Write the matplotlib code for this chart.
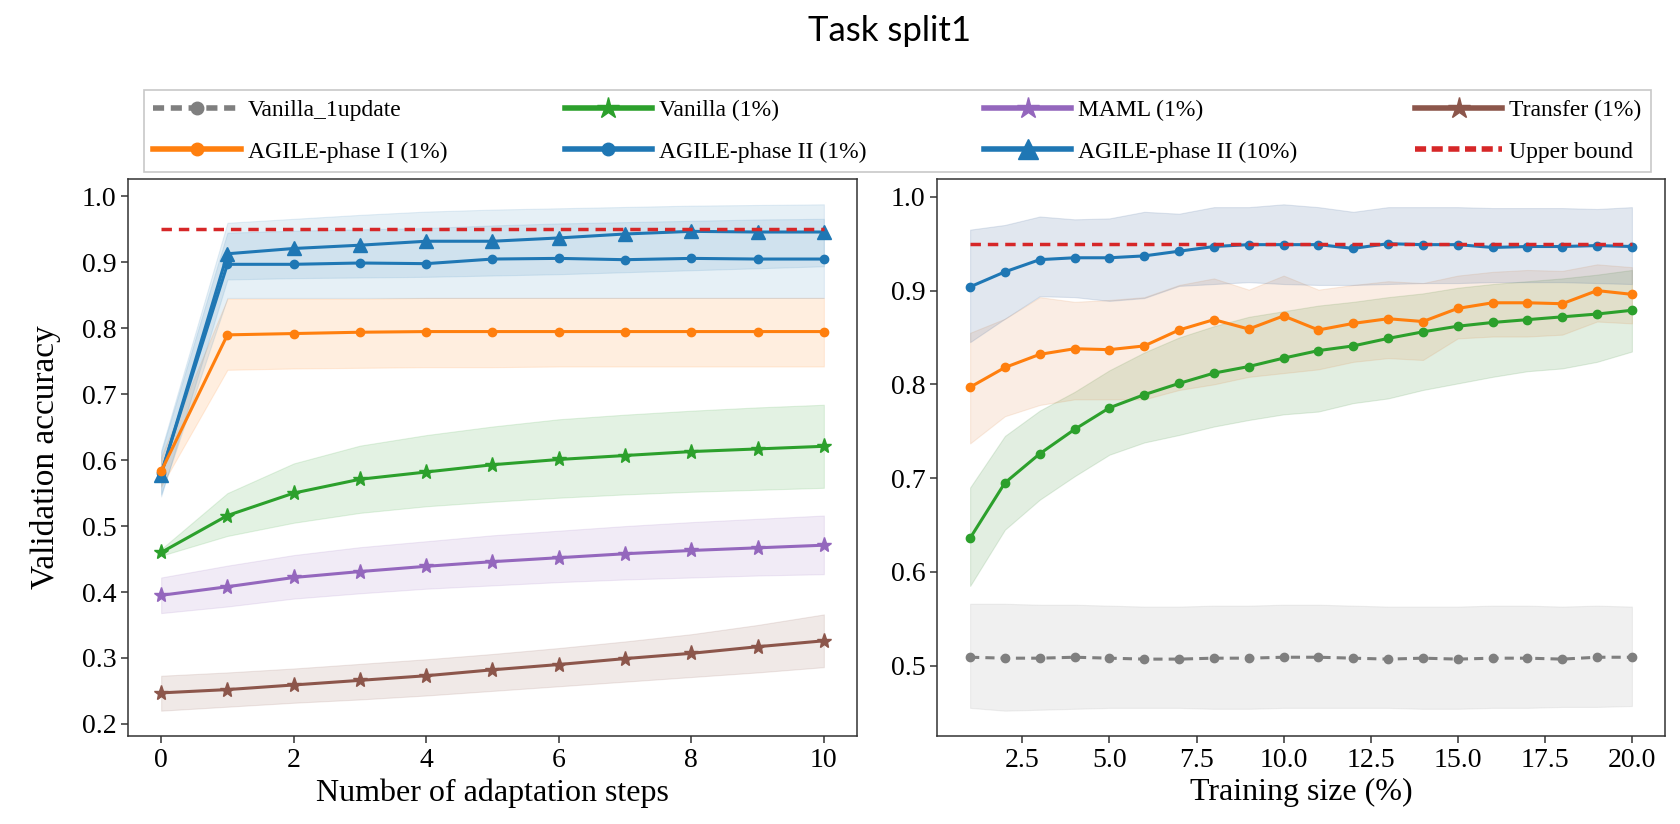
import matplotlib
matplotlib.use("Agg")
import matplotlib.pyplot as plt
from matplotlib.lines import Line2D
import numpy as np

# ---------------- data ----------------
steps = [0, 1, 2, 3, 4, 5, 6, 7, 8, 9, 10]

vanilla_mean = [0.460, 0.516, 0.550, 0.571, 0.582, 0.593, 0.601, 0.607, 0.613, 0.617, 0.621]
vanilla_lo = [0.455, 0.485, 0.505, 0.520, 0.530, 0.537, 0.543, 0.548, 0.552, 0.555, 0.558]
vanilla_hi = [0.465, 0.550, 0.595, 0.622, 0.638, 0.651, 0.662, 0.669, 0.675, 0.680, 0.684]

maml_mean = [0.395, 0.408, 0.422, 0.431, 0.439, 0.446, 0.452, 0.458, 0.463, 0.467, 0.471]
maml_lo = [0.368, 0.378, 0.390, 0.398, 0.405, 0.410, 0.415, 0.419, 0.422, 0.425, 0.427]
maml_hi = [0.422, 0.440, 0.456, 0.468, 0.477, 0.486, 0.493, 0.500, 0.506, 0.511, 0.516]

transfer_mean = [0.247, 0.252, 0.259, 0.266, 0.273, 0.282, 0.290, 0.299, 0.307, 0.317, 0.326]
transfer_lo = [0.220, 0.226, 0.232, 0.237, 0.243, 0.250, 0.257, 0.264, 0.271, 0.278, 0.286]
transfer_hi = [0.273, 0.278, 0.284, 0.291, 0.298, 0.306, 0.315, 0.325, 0.336, 0.350, 0.366]

agile1_mean = [0.583, 0.790, 0.792, 0.794, 0.795, 0.795, 0.795, 0.795, 0.795, 0.795, 0.795]
agile1_lo = [0.560, 0.737, 0.739, 0.740, 0.741, 0.741, 0.742, 0.742, 0.742, 0.742, 0.742]
agile1_hi = [0.605, 0.845, 0.845, 0.845, 0.846, 0.846, 0.846, 0.846, 0.846, 0.846, 0.846]

agile2_mean = [0.580, 0.897, 0.897, 0.899, 0.898, 0.905, 0.906, 0.904, 0.906, 0.905, 0.905]
agile2_lo = [0.548, 0.846, 0.846, 0.846, 0.846, 0.846, 0.846, 0.846, 0.846, 0.846, 0.846]
agile2_hi = [0.612, 0.945, 0.948, 0.950, 0.952, 0.956, 0.959, 0.961, 0.963, 0.965, 0.966]

agile2_10_mean = [0.578, 0.913, 0.921, 0.926, 0.932, 0.932, 0.937, 0.943, 0.947, 0.946, 0.946]
agile2_10_lo = [0.545, 0.874, 0.876, 0.877, 0.878, 0.880, 0.882, 0.885, 0.888, 0.891, 0.894]
agile2_10_hi = [0.615, 0.960, 0.966, 0.972, 0.977, 0.980, 0.982, 0.984, 0.986, 0.987, 0.988]

upper_bound = 0.95

sizes = [1, 2, 3, 4, 5, 6, 7, 8, 9, 10, 11, 12, 13, 14, 15, 16, 17, 18, 19, 20]

v1u_mean = [0.509, 0.508, 0.508, 0.509, 0.508, 0.507, 0.507, 0.508, 0.508, 0.509,
            0.509, 0.508, 0.507, 0.508, 0.507, 0.508, 0.508, 0.507, 0.509, 0.509]
v1u_lo = [0.455, 0.452, 0.453, 0.454, 0.455, 0.455, 0.455, 0.454, 0.454, 0.455,
          0.455, 0.455, 0.455, 0.454, 0.454, 0.455, 0.455, 0.456, 0.456, 0.457]
v1u_hi = [0.566, 0.566, 0.565, 0.565, 0.564, 0.563, 0.563, 0.564, 0.564, 0.565,
          0.565, 0.564, 0.563, 0.563, 0.563, 0.564, 0.564, 0.563, 0.564, 0.563]

van_r_mean = [0.636, 0.695, 0.726, 0.752, 0.775, 0.789, 0.801, 0.812, 0.819, 0.828,
              0.836, 0.841, 0.849, 0.856, 0.862, 0.866, 0.869, 0.872, 0.875, 0.879]
van_r_lo = [0.585, 0.645, 0.677, 0.702, 0.725, 0.738, 0.746, 0.755, 0.762, 0.768,
            0.771, 0.780, 0.785, 0.794, 0.801, 0.808, 0.814, 0.817, 0.824, 0.835]
van_r_hi = [0.690, 0.745, 0.772, 0.792, 0.815, 0.834, 0.850, 0.862, 0.872, 0.878,
            0.884, 0.888, 0.893, 0.897, 0.903, 0.907, 0.910, 0.913, 0.917, 0.922]

ag1_r_mean = [0.797, 0.818, 0.832, 0.838, 0.837, 0.841, 0.858, 0.869, 0.859, 0.873,
              0.858, 0.865, 0.870, 0.867, 0.881, 0.887, 0.887, 0.886, 0.900, 0.896]
ag1_r_lo = [0.737, 0.766, 0.778, 0.784, 0.784, 0.784, 0.794, 0.800, 0.808, 0.812,
            0.816, 0.824, 0.828, 0.826, 0.849, 0.851, 0.851, 0.853, 0.867, 0.865]
ag1_r_hi = [0.855, 0.870, 0.893, 0.888, 0.890, 0.893, 0.906, 0.913, 0.901, 0.916,
            0.901, 0.906, 0.910, 0.908, 0.916, 0.920, 0.922, 0.921, 0.928, 0.925]

ag2_r_mean = [0.904, 0.920, 0.933, 0.935, 0.935, 0.937, 0.942, 0.947, 0.949, 0.949,
              0.949, 0.945, 0.950, 0.949, 0.949, 0.946, 0.947, 0.947, 0.948, 0.947]
ag2_r_lo = [0.845, 0.870, 0.894, 0.893, 0.889, 0.892, 0.905, 0.907, 0.909, 0.907,
            0.906, 0.906, 0.907, 0.908, 0.908, 0.909, 0.909, 0.909, 0.908, 0.907]
ag2_r_hi = [0.965, 0.970, 0.979, 0.976, 0.977, 0.984, 0.982, 0.989, 0.989, 0.992,
            0.989, 0.984, 0.989, 0.989, 0.989, 0.988, 0.988, 0.988, 0.987, 0.989]

legend_labels = ["Vanilla_1update", "Vanilla (1%)", "MAML (1%)", "Transfer (1%)",
                 "AGILE-phase I (1%)", "AGILE-phase II (1%)", "AGILE-phase II (10%)", "Upper bound"]

# ---------------- style ----------------
C_GRAY = "#7f7f7f"
C_GREEN = "#2ca02c"
C_PURPLE = "#9467bd"
C_BROWN = "#8c564b"
C_ORANGE = "#ff7f0e"
C_BLUE = "#1f77b4"
C_RED = "#d62728"

plt.rcParams["font.family"] = ["Liberation Serif", "DejaVu Serif"]
plt.rcParams["axes.edgecolor"] = "#333333"
plt.rcParams["axes.linewidth"] = 1.1

fig = plt.figure(figsize=(16.8, 8.24), dpi=100)
W, H = 1680, 824
ax1 = fig.add_axes([128 / W, 1 - 736 / H, (857 - 128) / W, (736 - 179) / H])
ax2 = fig.add_axes([937 / W, 1 - 736 / H, (1665 - 937) / W, (736 - 179) / H])

LW = 2.2
FA = 0.13


def band(ax, x, lo, hi, c, a=FA):
    ax.fill_between(x, lo, hi, color=c, alpha=a, linewidth=0.8)


# left panel
band(ax1, steps, transfer_lo, transfer_hi, C_BROWN)
band(ax1, steps, maml_lo, maml_hi, C_PURPLE)
band(ax1, steps, vanilla_lo, vanilla_hi, C_GREEN)
band(ax1, steps, agile1_lo, agile1_hi, C_ORANGE)
band(ax1, steps, agile2_lo, agile2_hi, C_BLUE, 0.11)
band(ax1, steps, agile2_10_lo, agile2_10_hi, C_BLUE, 0.11)

ax1.plot(steps, transfer_mean, color=C_BROWN, lw=LW, marker="*", ms=11)
ax1.plot(steps, maml_mean, color=C_PURPLE, lw=LW, marker="*", ms=11)
ax1.plot(steps, vanilla_mean, color=C_GREEN, lw=LW, marker="*", ms=11)
ax1.plot(steps, agile2_10_mean, color=C_BLUE, lw=LW, marker="^", ms=10)
ax1.plot(steps, agile2_mean, color=C_BLUE, lw=LW, marker="o", ms=6)
ax1.plot(steps, agile1_mean, color=C_ORANGE, lw=LW, marker="o", ms=6)
ax1.plot([steps[0], steps[-1]], [upper_bound, upper_bound], color=C_RED, lw=2.5,
         dashes=(3, 2))

# right panel
band(ax2, sizes, v1u_lo, v1u_hi, C_GRAY, 0.11)
band(ax2, sizes, van_r_lo, van_r_hi, "#3f8f3a", 0.15)
band(ax2, sizes, ag1_r_lo, ag1_r_hi, "#e08a4a", 0.15)
band(ax2, sizes, ag2_r_lo, ag2_r_hi, "#4a6fa0", 0.16)

ax2.plot(sizes, v1u_mean, color=C_GRAY, lw=LW, marker="o", ms=6, dashes=(3, 2))
ax2.plot(sizes, van_r_mean, color=C_GREEN, lw=LW, marker="o", ms=6)
ax2.plot(sizes, ag1_r_mean, color=C_ORANGE, lw=LW, marker="o", ms=6)
ax2.plot(sizes, ag2_r_mean, color=C_BLUE, lw=LW, marker="o", ms=6)
ax2.plot([sizes[0], sizes[-1]], [upper_bound, upper_bound], color=C_RED, lw=2.5,
         dashes=(3, 2))

for ax in (ax1, ax2):
    ax.tick_params(labelsize=20, length=5, width=1.1, pad=3.5, color="#333333")
    ax.margins(x=0.05, y=0.05)

ax1.set_xticks([0, 2, 4, 6, 8, 10])
ax1.set_yticks([0.2, 0.3, 0.4, 0.5, 0.6, 0.7, 0.8, 0.9, 1.0])
ax2.set_xticks([2.5, 5.0, 7.5, 10.0, 12.5, 15.0, 17.5, 20.0])
ax2.set_yticks([0.5, 0.6, 0.7, 0.8, 0.9, 1.0])

ax1.set_xlabel("Number of adaptation steps", fontsize=23, labelpad=4)
ax2.set_xlabel("Training size (%)", fontsize=23, labelpad=4)
ax1.set_ylabel("Validation accuracy", fontsize=24, labelpad=15)

# legend (row-major visual order -> column-major for matplotlib)
h = [
    Line2D([], [], color=C_GRAY, lw=4, dashes=(2, 1.2), marker="o", ms=9),
    Line2D([], [], color=C_GREEN, lw=4, marker="*", ms=16),
    Line2D([], [], color=C_PURPLE, lw=4, marker="*", ms=16),
    Line2D([], [], color=C_BROWN, lw=4, marker="*", ms=16),
    Line2D([], [], color=C_ORANGE, lw=4, marker="o", ms=9),
    Line2D([], [], color=C_BLUE, lw=4, marker="o", ms=9),
    Line2D([], [], color=C_BLUE, lw=4, marker="^", ms=15),
    Line2D([], [], color=C_RED, lw=4, dashes=(2, 1)),
]
order = [0, 4, 1, 5, 2, 6, 3, 7]
leg = fig.legend([h[i] for i in order], [legend_labels[i] for i in order],
                 ncol=4, mode="expand", loc="upper left",
                 bbox_to_anchor=(144 / W, 1 - 90 / H, (1651 - 144) / W, 0.0),
                 borderaxespad=0, fontsize=17, handlelength=3.7, handletextpad=0.3,
                 fancybox=False, edgecolor="#c8c8c8", framealpha=1,
                 borderpad=0.4, labelspacing=0.85)
leg.get_frame().set_linewidth(1.2)

fig.text(890 / W, 1 - 31 / H, "Task split1", ha="center", va="center",
         fontsize=25, family=["Lato", "DejaVu Sans"])

fig.savefig("out.png", dpi=100)
